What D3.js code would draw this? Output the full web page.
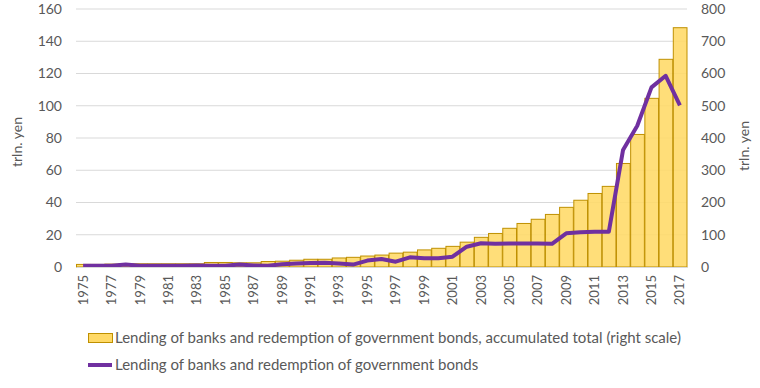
<!DOCTYPE html>
<html>
<head>
<meta charset="utf-8">
<script src="https://cdn.jsdelivr.net/npm/d3@7"></script>
<style>
  body { margin: 0; background: #fff; }
  svg text { font-family: Lato, "Open Sans", sans-serif; fill: #595959; }
</style>
</head>
<body>
<svg id="chart" width="760" height="388"></svg>
<script>
// years on the x axis
const years = d3.range(1975, 2018);

// accumulated total, right scale (trln. yen)
const accumulated = [8, 8, 9, 10, 10, 10, 10, 10, 10, 14, 14, 13, 13, 17, 18, 21, 24, 24, 28, 30,
  34, 37, 43, 46, 53, 58, 64, 77, 92, 104, 120, 135, 148, 163, 185, 207, 228, 250, 321, 411,
  523, 644, 742];

// yearly lending and redemption, left scale (trln. yen)
const yearly = [0.7, 0.7, 0.8, 1.6, 0.8, 0.7, 0.7, 0.7, 1.0, 0.8, 0.8, 1.6, 1.0, 0.8, 1.7, 2.2,
  2.5, 2.7, 2.2, 1.5, 4.0, 5.0, 3.3, 6.0, 5.4, 5.4, 6.4, 12.6, 14.7, 14.4, 14.5, 14.5, 14.5,
  14.4, 20.9, 21.6, 21.8, 21.9, 72.6, 87.6, 111.4, 118.6, 100.3];

const leftTicks = [0, 20, 40, 60, 80, 100, 120, 140, 160];
const rightTicks = [0, 100, 200, 300, 400, 500, 600, 700, 800];

const barLabel = "Lending of banks and redemption of government bonds, accumulated total (right scale)";
const lineLabel = "Lending of banks and redemption of government bonds";

const svg = d3.select("#chart");
const plot = {left: 76, right: 687, top: 9, bottom: 267};

const x = d3.scaleBand()
    .domain(years)
    .range([plot.left, plot.right])
    .padding(0);
const yLeft = d3.scaleLinear().domain([0, 160]).range([plot.bottom, plot.top]);
const yRight = d3.scaleLinear().domain([0, 800]).range([plot.bottom, plot.top]);

// gridlines
svg.append("g")
  .selectAll("line")
  .data(leftTicks)
  .join("line")
    .attr("x1", plot.left)
    .attr("x2", plot.right)
    .attr("y1", d => yLeft(d))
    .attr("y2", d => yLeft(d))
    .attr("stroke", "#d9d9d9")
    .attr("stroke-width", 1);

// bars (accumulated total, right scale)
svg.append("g")
  .selectAll("rect")
  .data(years)
  .join("rect")
    .attr("x", d => x(d) + 0.5)
    .attr("width", x.bandwidth() - 0.5)
    .attr("y", (d, i) => yRight(accumulated[i]))
    .attr("height", (d, i) => plot.bottom - yRight(accumulated[i]))
    .attr("fill", "#ffd966")
    .attr("fill-opacity", 0.88)
    .attr("stroke", "#bf9000")
    .attr("stroke-width", 1);

// line (left scale)
const line = d3.line()
    .x((d, i) => x(years[i]) + x.bandwidth() / 2)
    .y(d => yLeft(d));

svg.append("path")
    .datum(yearly)
    .attr("d", line)
    .attr("fill", "none")
    .attr("stroke", "#7030a0")
    .attr("stroke-width", 4)
    .attr("stroke-linejoin", "round");

// left axis
const leftAxis = svg.append("g")
    .attr("transform", `translate(${plot.left},0)`)
    .call(d3.axisLeft(yLeft).tickValues(leftTicks).tickSize(0).tickPadding(14));
leftAxis.select(".domain").remove();
leftAxis.selectAll("text").attr("font-size", 14).attr("font-family", null);

// right axis
const rightAxis = svg.append("g")
    .attr("transform", `translate(${plot.right},0)`)
    .call(d3.axisRight(yRight).tickValues(rightTicks).tickSize(0).tickPadding(14));
rightAxis.select(".domain").remove();
rightAxis.selectAll("text").attr("font-size", 14).attr("font-family", null);

// bottom axis
const bottomAxis = svg.append("g")
    .attr("transform", `translate(0,${plot.bottom})`)
    .call(d3.axisBottom(x).tickValues(years.filter(d => (d - 1975) % 2 === 0)).tickSize(0));
bottomAxis.select(".domain").attr("stroke", "#d9d9d9");
bottomAxis.selectAll("text")
    .attr("font-size", 13)
    .attr("font-family", null)
    .attr("transform", "rotate(-90)")
    .attr("text-anchor", "end")
    .attr("x", -8)
    .attr("y", 0)
    .attr("dy", "0.35em");

// axis titles
svg.append("text")
    .attr("transform", "translate(22,142) rotate(-90)")
    .attr("text-anchor", "middle")
    .attr("font-size", 14)
    .text("trln. yen");
svg.append("text")
    .attr("transform", "translate(749,146) rotate(-90)")
    .attr("text-anchor", "middle")
    .attr("font-size", 14)
    .text("trln. yen");

// legend
const legend = svg.append("g");
legend.append("rect")
    .attr("x", 88.5).attr("y", 333.5)
    .attr("width", 24).attr("height", 9)
    .attr("fill", "#ffd966").attr("stroke", "#bf9000");
legend.append("text")
    .attr("x", 115).attr("y", 338).attr("dy", "0.35em")
    .attr("font-size", 15)
    .text(barLabel);
legend.append("line")
    .attr("x1", 88).attr("x2", 112).attr("y1", 365).attr("y2", 365)
    .attr("stroke", "#7030a0").attr("stroke-width", 4);
legend.append("text")
    .attr("x", 115).attr("y", 365).attr("dy", "0.35em")
    .attr("font-size", 15)
    .text(lineLabel);
</script>
</body>
</html>
